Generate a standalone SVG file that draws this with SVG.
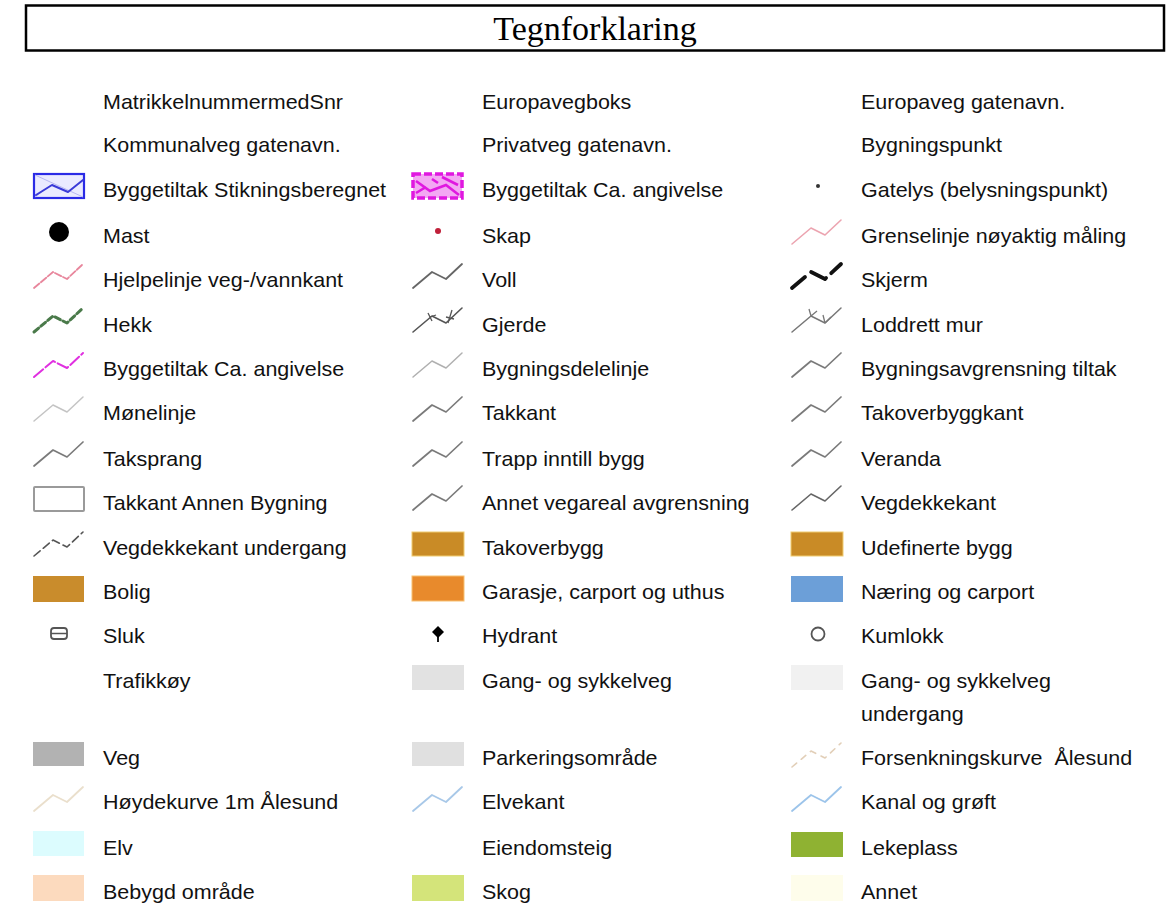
<svg xmlns="http://www.w3.org/2000/svg" width="1168" height="910" viewBox="0 0 1168 910">
<style>
  .t { font-family: "Liberation Sans", Arial, sans-serif; font-size: 20px; fill: #111; }
  .title { font-family: "Liberation Serif", "Times New Roman", serif; font-size: 34px; fill: #000; }
  .zz { fill: none; stroke-linejoin: round; stroke-linecap: round; }
  .g1 { stroke: #7a7a7a; stroke-width: 1.7; }
  .g2 { stroke: #c4c4c4; stroke-width: 1.5; }
</style>
<defs>
  <path id="zig" d="M1,25 L20,9 L34,16 L50,1"/>
</defs>
<rect width="1168" height="910" fill="#fff"/>
<g id="title">
  <rect x="26" y="5.5" width="1138" height="45" fill="#fff" stroke="#000" stroke-width="2.5"/>
  <text class="title" x="595" y="40" text-anchor="middle">Tegnforklaring</text>
</g>

<!-- Column 1 icons -->
<g id="c1-stikning" transform="translate(33,173)">
  <rect x="1" y="1" width="50" height="24" fill="#eaeaff" stroke="#2a2ae6" stroke-width="2.2"/>
  <path d="M2,2 L50,24 M2,24 L18,12" stroke="#b8b8f0" stroke-width="1" fill="none"/>
  <path d="M3,22 L19,12 L35,19 L50,7" class="zz" stroke="#3a3ad8" stroke-width="2"/>
</g>
<g id="c1-mast"><circle cx="59" cy="232" r="10" fill="#000"/></g>
<g id="c1-hjelpelinje" transform="translate(33,263)"><use href="#zig" class="zz" stroke="#e8869c" stroke-width="1.8" stroke-dasharray="7 2"/></g>
<g id="c1-hekk" transform="translate(33,307)"><use href="#zig" class="zz" stroke="#4a7a4a" stroke-width="3" stroke-dasharray="6 3"/></g>
<g id="c1-byggetiltak-ca" transform="translate(33,352)"><use href="#zig" class="zz" stroke="#e030e0" stroke-width="2" stroke-dasharray="12 3"/></g>
<g id="c1-monelinje" transform="translate(33,396)"><use href="#zig" class="zz g2"/></g>
<g id="c1-taksprang" transform="translate(33,441)"><use href="#zig" class="zz g1"/></g>
<g id="c1-takkant-annen"><rect x="34" y="487" width="50" height="24" fill="#fff" stroke="#9a9a9a" stroke-width="2" rx="1"/></g>
<g id="c1-vegdekkekant-undergang" transform="translate(33,531)"><use href="#zig" class="zz" stroke="#555" stroke-width="1.6" stroke-dasharray="8 4"/></g>
<g id="c1-bolig"><rect x="33" y="576" width="51" height="26" fill="#c98c2c"/></g>
<g id="c1-sluk">
  <rect x="51" y="628" width="16" height="11" rx="3" fill="#fff" stroke="#555" stroke-width="1.8"/>
  <line x1="51" y1="633.5" x2="67" y2="633.5" stroke="#555" stroke-width="1.5"/>
</g>
<g id="c1-veg"><rect x="33" y="742" width="51" height="24" fill="#b2b2b2"/></g>
<g id="c1-hoydekurve" transform="translate(33,786)"><use href="#zig" class="zz" stroke="#eadfcc" stroke-width="1.8"/></g>
<g id="c1-elv"><rect x="33" y="831" width="51" height="25" fill="#dcfcfe"/></g>
<g id="c1-bebygd"><rect x="33" y="875" width="51" height="26" fill="#fcdabe"/></g>

<!-- Column 2 icons -->
<g id="c2-byggetiltak-ca" transform="translate(412,173)">
  <rect x="1" y="1" width="49" height="24" fill="#f3a8f3" stroke="#e018e0" stroke-width="3.5" stroke-dasharray="8 3"/>
  <path d="M4,8 L18,18 L34,12 L47,22 M4,20 L14,14 M30,4 L46,12 M20,6 L26,10" stroke="#e018e0" stroke-width="2.6" fill="none"/>
</g>
<g id="c2-skap"><circle cx="438" cy="231" r="3" fill="#c0203a"/></g>
<g id="c2-voll" transform="translate(412,263)"><use href="#zig" class="zz" stroke="#666" stroke-width="1.8"/></g>
<g id="c2-gjerde" transform="translate(412,307)">
  <use href="#zig" class="zz" stroke="#555" stroke-width="1.6"/>
  <path d="M16,6 L20,14 M18,10 L24,8 M40,3 L36,16 M34,10 L42,12" stroke="#555" stroke-width="1.3" fill="none"/>
</g>
<g id="c2-bygningsdelelinje" transform="translate(412,352)"><use href="#zig" class="zz" stroke="#b0b0b0" stroke-width="1.5"/></g>
<g id="c2-takkant" transform="translate(412,396)"><use href="#zig" class="zz g1"/></g>
<g id="c2-trapp" transform="translate(412,441)"><use href="#zig" class="zz g1"/></g>
<g id="c2-annet-vegareal" transform="translate(412,485)"><use href="#zig" class="zz g1"/></g>
<g id="c2-takoverbygg"><rect x="412" y="532" width="52" height="24" fill="#c98b26" stroke="#f0cc70" stroke-width="1"/></g>
<g id="c2-garasje"><rect x="412" y="576" width="52" height="25" fill="#e88a2c" stroke="#f8c070" stroke-width="1"/></g>
<g id="c2-hydrant">
  <path d="M438,626 L444,632 L438,638 L432,632 Z" fill="#000"/>
  <line x1="438" y1="636" x2="438" y2="642" stroke="#000" stroke-width="1.8"/>
</g>
<g id="c2-gang-sykkel"><rect x="412" y="665" width="52" height="25" fill="#e2e2e2"/></g>
<g id="c2-parkering"><rect x="412" y="742" width="52" height="24" fill="#e0e0e0"/></g>
<g id="c2-elvekant" transform="translate(412,786)"><use href="#zig" class="zz" stroke="#a8c8e8" stroke-width="1.8"/></g>
<g id="c2-skog"><rect x="412" y="875" width="52" height="26" fill="#d4e47a"/></g>

<!-- Column 3 icons -->
<g id="c3-gatelys"><circle cx="818" cy="186" r="2" fill="#333"/></g>
<g id="c3-grenselinje" transform="translate(791,219)"><use href="#zig" class="zz" stroke="#eca4b0" stroke-width="1.6"/></g>
<g id="c3-skjerm" transform="translate(791,263)"><use href="#zig" class="zz" stroke="#111" stroke-width="3.8" stroke-dasharray="17 8 17 7 40"/></g>
<g id="c3-loddrett" transform="translate(791,307)">
  <use href="#zig" class="zz" stroke="#777" stroke-width="1.5"/>
  <path d="M20,9 L18,2 M20,9 L26,4 M34,16 L32,8 M34,16 L40,10" stroke="#777" stroke-width="1.3" fill="none"/>
</g>
<g id="c3-bygningsavgrensning" transform="translate(791,352)"><use href="#zig" class="zz g1"/></g>
<g id="c3-takoverbyggkant" transform="translate(791,396)"><use href="#zig" class="zz g1"/></g>
<g id="c3-veranda" transform="translate(791,441)"><use href="#zig" class="zz g1"/></g>
<g id="c3-vegdekkekant" transform="translate(791,485)"><use href="#zig" class="zz" stroke="#666" stroke-width="1.6"/></g>
<g id="c3-udefinerte"><rect x="791" y="532" width="52" height="24" fill="#c98b26" stroke="#f0cc70" stroke-width="1"/></g>
<g id="c3-naering"><rect x="791" y="576" width="52" height="26" fill="#6c9fd8"/></g>
<g id="c3-kumlokk"><circle cx="818" cy="634" r="6.5" fill="#fff" stroke="#555" stroke-width="1.8"/></g>
<g id="c3-gang-undergang"><rect x="791" y="665" width="52" height="25" fill="#f1f1f1"/></g>
<g id="c3-forsenkning" transform="translate(791,742)"><use href="#zig" class="zz" stroke="#e2cfb8" stroke-width="1.6" stroke-dasharray="6 6"/></g>
<g id="c3-kanal" transform="translate(791,786)"><use href="#zig" class="zz" stroke="#9cc4ea" stroke-width="1.8"/></g>
<g id="c3-lekeplass"><rect x="791" y="832" width="52" height="25" fill="#8fb232"/></g>
<g id="c3-annet"><rect x="791" y="875" width="52" height="26" fill="#fefdeb"/></g>

<!-- Column 1 labels -->
<g id="labels-1" transform="translate(103,0) scale(1.075,1)">
  <text class="t" x="0" y="109">MatrikkelnummermedSnr</text>
  <text class="t" x="0" y="152">Kommunalveg gatenavn.</text>
  <text class="t" x="0" y="197">Byggetiltak Stikningsberegnet</text>
  <text class="t" x="0" y="243">Mast</text>
  <text class="t" x="0" y="287">Hjelpelinje veg-/vannkant</text>
  <text class="t" x="0" y="332">Hekk</text>
  <text class="t" x="0" y="376">Byggetiltak Ca. angivelse</text>
  <text class="t" x="0" y="420">Mønelinje</text>
  <text class="t" x="0" y="466">Taksprang</text>
  <text class="t" x="0" y="510">Takkant Annen Bygning</text>
  <text class="t" x="0" y="555">Vegdekkekant undergang</text>
  <text class="t" x="0" y="599">Bolig</text>
  <text class="t" x="0" y="643">Sluk</text>
  <text class="t" x="0" y="688">Trafikkøy</text>
  <text class="t" x="0" y="765">Veg</text>
  <text class="t" x="0" y="809">Høydekurve 1m Ålesund</text>
  <text class="t" x="0" y="855">Elv</text>
  <text class="t" x="0" y="899">Bebygd område</text>
</g>
<!-- Column 2 labels -->
<g id="labels-2" transform="translate(482,0) scale(1.075,1)">
  <text class="t" x="0" y="109">Europavegboks</text>
  <text class="t" x="0" y="152">Privatveg gatenavn.</text>
  <text class="t" x="0" y="197">Byggetiltak Ca. angivelse</text>
  <text class="t" x="0" y="243">Skap</text>
  <text class="t" x="0" y="287">Voll</text>
  <text class="t" x="0" y="332">Gjerde</text>
  <text class="t" x="0" y="376">Bygningsdelelinje</text>
  <text class="t" x="0" y="420">Takkant</text>
  <text class="t" x="0" y="466">Trapp inntill bygg</text>
  <text class="t" x="0" y="510">Annet vegareal avgrensning</text>
  <text class="t" x="0" y="555">Takoverbygg</text>
  <text class="t" x="0" y="599">Garasje, carport og uthus</text>
  <text class="t" x="0" y="643">Hydrant</text>
  <text class="t" x="0" y="688">Gang- og sykkelveg</text>
  <text class="t" x="0" y="765">Parkeringsområde</text>
  <text class="t" x="0" y="809">Elvekant</text>
  <text class="t" x="0" y="855">Eiendomsteig</text>
  <text class="t" x="0" y="899">Skog</text>
</g>
<!-- Column 3 labels -->
<g id="labels-3" transform="translate(861,0) scale(1.075,1)">
  <text class="t" x="0" y="109">Europaveg gatenavn.</text>
  <text class="t" x="0" y="152">Bygningspunkt</text>
  <text class="t" x="0" y="197">Gatelys (belysningspunkt)</text>
  <text class="t" x="0" y="243">Grenselinje nøyaktig måling</text>
  <text class="t" x="0" y="287">Skjerm</text>
  <text class="t" x="0" y="332">Loddrett mur</text>
  <text class="t" x="0" y="376">Bygningsavgrensning tiltak</text>
  <text class="t" x="0" y="420">Takoverbyggkant</text>
  <text class="t" x="0" y="466">Veranda</text>
  <text class="t" x="0" y="510">Vegdekkekant</text>
  <text class="t" x="0" y="555">Udefinerte bygg</text>
  <text class="t" x="0" y="599">Næring og carport</text>
  <text class="t" x="0" y="643">Kumlokk</text>
  <text class="t" x="0" y="688">Gang- og sykkelveg</text>
  <text class="t" x="0" y="721">undergang</text>
  <text class="t" x="0" y="765" xml:space="preserve">Forsenkningskurve  Ålesund</text>
  <text class="t" x="0" y="809">Kanal og grøft</text>
  <text class="t" x="0" y="855">Lekeplass</text>
  <text class="t" x="0" y="899">Annet</text>
</g>
</svg>
